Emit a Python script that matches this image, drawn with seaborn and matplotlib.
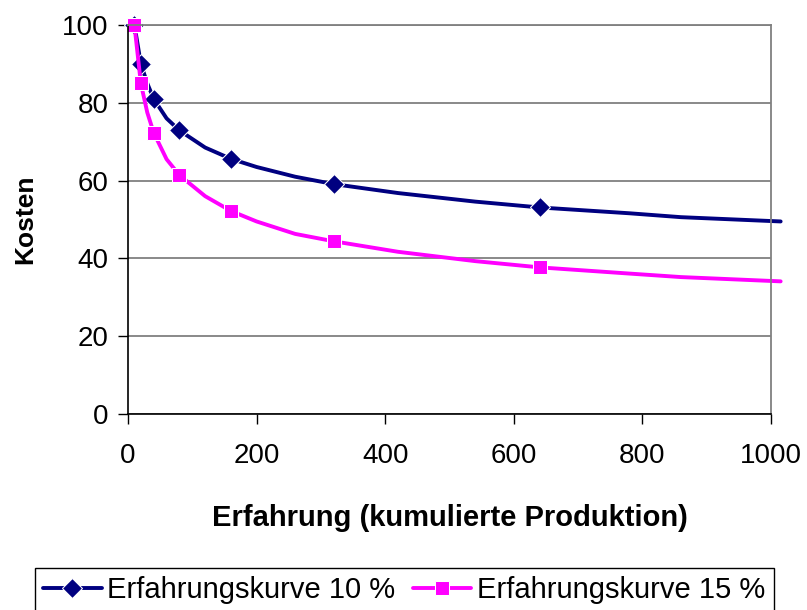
import matplotlib
matplotlib.use("Agg")
import matplotlib.pyplot as plt
import seaborn as sns

# cumulative production (x) and cost readings along the two curves
produktion = [10, 20, 30, 40, 60, 80, 120, 160, 200, 260, 320, 420, 540, 640, 780, 860, 1015]
kurve_10 = [100, 90, 85, 81, 76, 72.9, 68.5, 65.6, 63.5, 61, 59.1, 56.8, 54.6, 53.1, 51.6, 50.6, 49.5]
kurve_15 = [100, 85, 77.5, 72.3, 65.5, 61.4, 56, 52.2, 49.5, 46.3, 44.4, 41.7, 39.3, 37.7, 36.1, 35.2, 34.1]
# points that carry a marker
marker_x = [10, 20, 40, 80, 160, 320, 640]
labels = ["Erfahrungskurve 10 %", "Erfahrungskurve 15 %"]

sns.set_style("white")
plt.rcParams["font.family"] = ["Liberation Sans", "DejaVu Sans"]
plt.rcParams.update({"text.color": "black", "axes.labelcolor": "black",
                     "xtick.color": "black", "ytick.color": "black"})

fig = plt.figure(figsize=(8.07, 6.10), dpi=100)
ax = fig.add_axes([0.1586, 0.3213, 0.7968, 0.6377])

marks = [i for i, x in enumerate(produktion) if x in marker_x]
sns.lineplot(x=produktion, y=kurve_10, ax=ax, color="#000080", lw=2.8,
             marker="D", markersize=10, markevery=marks, label=labels[0], clip_on=False)
sns.lineplot(x=produktion, y=kurve_15, ax=ax, color="#FF00FF", lw=2.8,
             marker="s", markersize=9.5, markevery=marks, label=labels[1], clip_on=False)

ax.set_xlim(0, 1000)
ax.set_ylim(0, 100)
ax.set_xticks(range(0, 1001, 200))
ax.set_yticks(range(0, 101, 20))
ax.yaxis.grid(True, color="#808080", lw=1.3)
ax.set_axisbelow(True)
for s in ["top", "right"]:
    ax.spines[s].set_color("#808080")
    ax.spines[s].set_linewidth(1.3)
for s in ["left", "bottom"]:
    ax.spines[s].set_color("black")
    ax.spines[s].set_linewidth(1.2)
ax.tick_params(axis="both", labelsize=20, length=7, width=1, color="black", direction="out",
               left=True, bottom=True)
ax.tick_params(axis="x", pad=14)
ax.tick_params(axis="y", pad=7)

ax.set_xlabel("Erfahrung (kumulierte Produktion)", fontsize=21, fontweight="bold")
ax.set_ylabel("Kosten", fontsize=19, fontweight="bold")
ax.xaxis.set_label_coords(0.5, -0.232)
ax.yaxis.set_label_coords(-0.1415, 0.5)

ax.legend_.remove()
h, l = ax.get_legend_handles_labels()
fig.legend(h, l, loc="lower center", bbox_to_anchor=(0.501, -0.004), ncol=2, fontsize=21,
           frameon=True, fancybox=False, edgecolor="black", framealpha=1,
           handlelength=2.0, handletextpad=0.2, columnspacing=0.6, borderpad=0.28,
           borderaxespad=0.0)

fig.savefig("out.png", dpi=100)
